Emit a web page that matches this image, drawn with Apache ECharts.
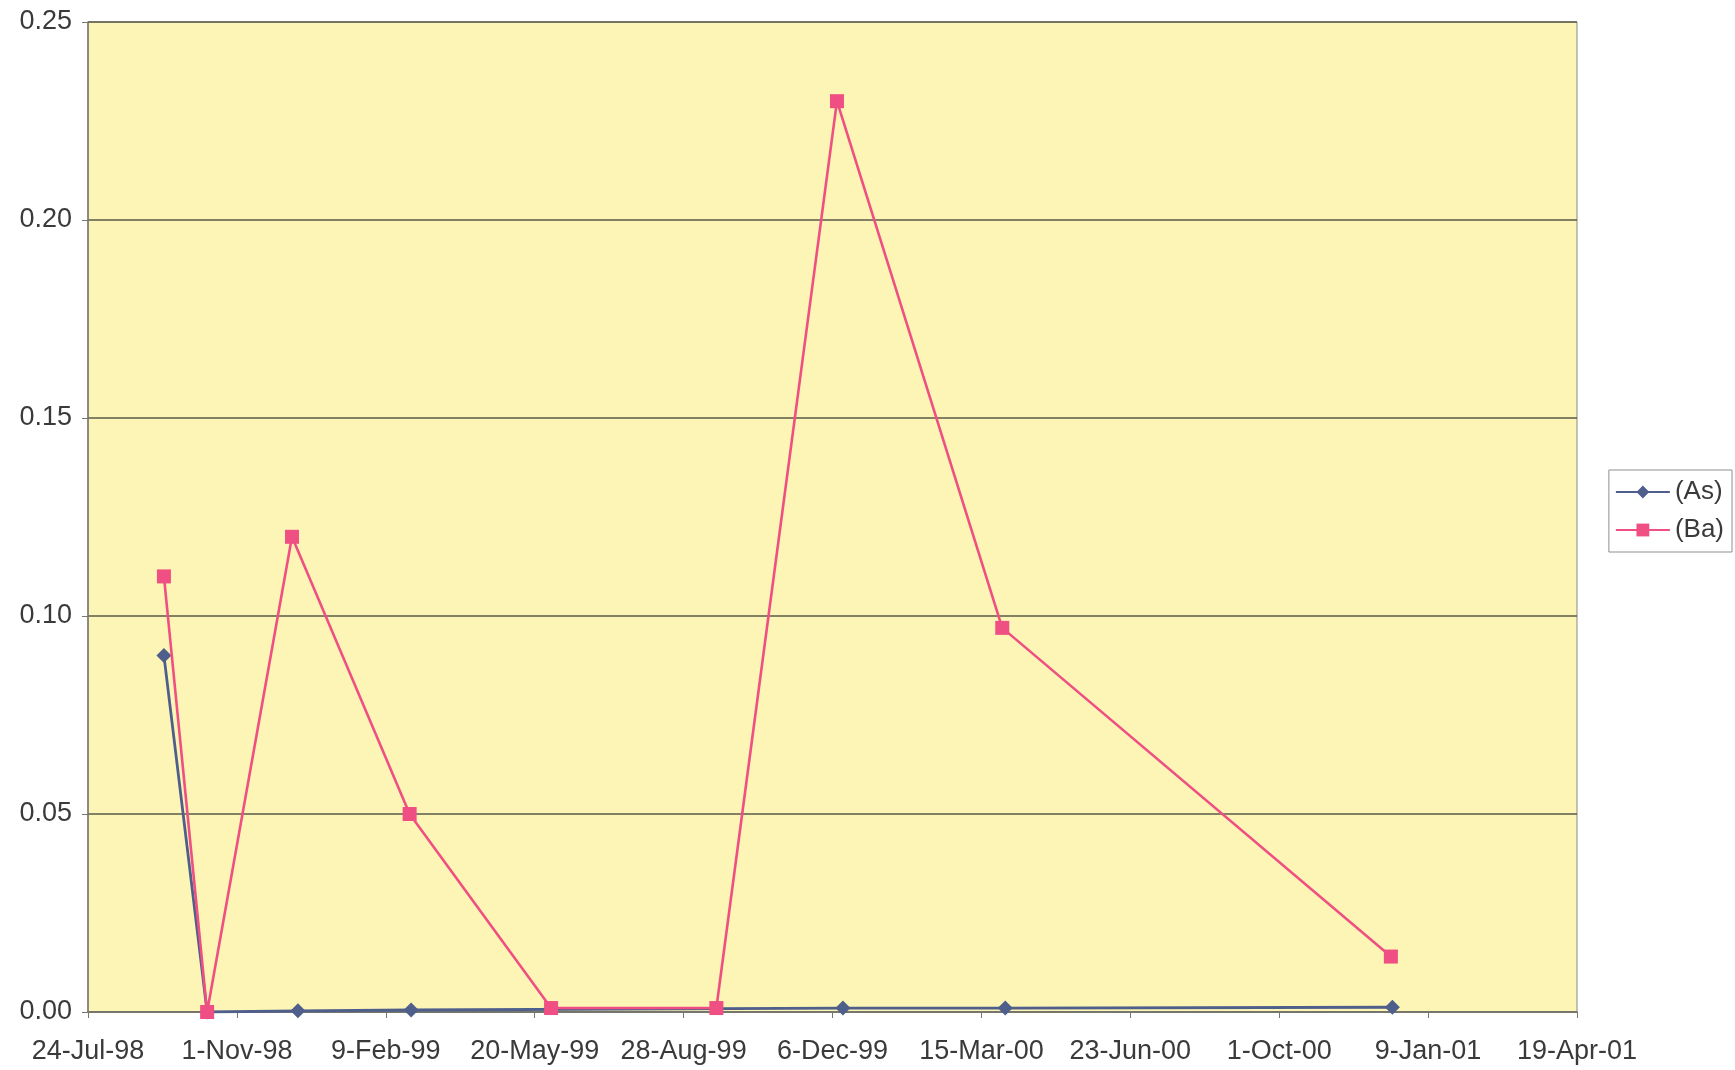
<!DOCTYPE html>
<html>
<head>
<meta charset="utf-8">
<script src="https://cdn.jsdelivr.net/npm/echarts@6/dist/echarts.min.js"></script>
<style>
  html, body { margin: 0; padding: 0; background: #ffffff; }
  #chart { width: 1735px; height: 1070px; }
</style>
</head>
<body>
<div id="chart"></div>
<script>
// Sampling dates and concentrations (mg/L)
const asDates = ['1998-09-13', '1998-10-12', '1998-12-12', '1999-02-26', '1999-12-13', '2000-03-31', '2000-12-16'];
const asValues = [0.09, 0.0, 0.0003, 0.0005, 0.001, 0.001, 0.0012];

const baDates = ['1998-09-13', '1998-10-12', '1998-12-08', '1999-02-25', '1999-05-31', '1999-09-19', '1999-12-09', '2000-03-29', '2000-12-15'];
const baValues = [0.11, 0.0, 0.12, 0.05, 0.001, 0.001, 0.23, 0.097, 0.014];

// Axis range: days counted from the first tick date
const axisStart = '1998-07-24';
const axisDays = 1000;
const tickDays = 100;
const yTicks = [0, 0.05, 0.10, 0.15, 0.20, 0.25];

const MONTHS = ['Jan', 'Feb', 'Mar', 'Apr', 'May', 'Jun', 'Jul', 'Aug', 'Sep', 'Oct', 'Nov', 'Dec'];
const DAY_MS = 86400000;
const startMs = Date.parse(axisStart + 'T00:00:00Z');

function dayOffset(iso) {
  return Math.round((Date.parse(iso + 'T00:00:00Z') - startMs) / DAY_MS);
}
function fmtDay(d) {
  const dt = new Date(startMs + d * DAY_MS);
  const yy = String(dt.getUTCFullYear() % 100).padStart(2, '0');
  return dt.getUTCDate() + '-' + MONTHS[dt.getUTCMonth()] + '-' + yy;
}
function pairs(dates, values) {
  return dates.map((d, i) => [dayOffset(d), values[i]]);
}

const labelFont = { fontFamily: 'Liberation Sans, Arial, sans-serif', fontSize: 27, color: '#3a3a3a' };

const chart = echarts.init(document.getElementById('chart'), null, { renderer: 'canvas' });
chart.setOption({
  backgroundColor: '#ffffff',
  animation: false,
  grid: {
    left: 88, right: 158, top: 22, bottom: 58,
    show: true,
    backgroundColor: '#fcf5b5',
    borderColor: '#8a8a80',
    borderWidth: 1
  },
  legend: {
    orient: 'vertical',
    right: 3,
    top: 470,
    data: ['(As)', '(Ba)'],
    itemWidth: 54,
    itemHeight: 16,
    itemGap: 12,
    padding: [9, 8, 9, 6],
    borderColor: '#8f8f8f',
    borderWidth: 1,
    backgroundColor: '#ffffff',
    textStyle: Object.assign({}, labelFont, { fontSize: 26, padding: [0, 0, 0, 0] })
  },
  xAxis: {
    type: 'value',
    min: 0,
    max: axisDays,
    interval: tickDays,
    axisLine: { show: true, lineStyle: { color: '#777770', width: 1.5 } },
    axisTick: { show: true, length: 6, lineStyle: { color: '#777770' } },
    splitLine: { show: false },
    axisLabel: Object.assign({}, labelFont, { margin: 26, formatter: v => fmtDay(v) })
  },
  yAxis: {
    type: 'value',
    min: yTicks[0],
    max: yTicks[yTicks.length - 1],
    interval: 0.05,
    axisLine: { show: true, lineStyle: { color: '#777770', width: 1.5 } },
    axisTick: { show: true, length: 6, lineStyle: { color: '#777770' } },
    splitLine: { show: true, lineStyle: { color: '#5a5a48', width: 1.6 } },
    axisLabel: Object.assign({}, labelFont, { margin: 16, formatter: v => v.toFixed(2) })
  },
  series: [
    {
      name: '(As)',
      type: 'line',
      data: pairs(asDates, asValues),
      symbol: 'diamond',
      symbolSize: 15,
      z: 3,
      lineStyle: { color: '#4f5f8c', width: 2.8 },
      itemStyle: { color: '#4f5f8c' }
    },
    {
      name: '(Ba)',
      type: 'line',
      data: pairs(baDates, baValues),
      symbol: 'rect',
      symbolSize: 14,
      z: 4,
      lineStyle: { color: '#ef4f82', width: 2.6 },
      itemStyle: { color: '#ef4f82' }
    }
  ]
});
</script>
</body>
</html>
